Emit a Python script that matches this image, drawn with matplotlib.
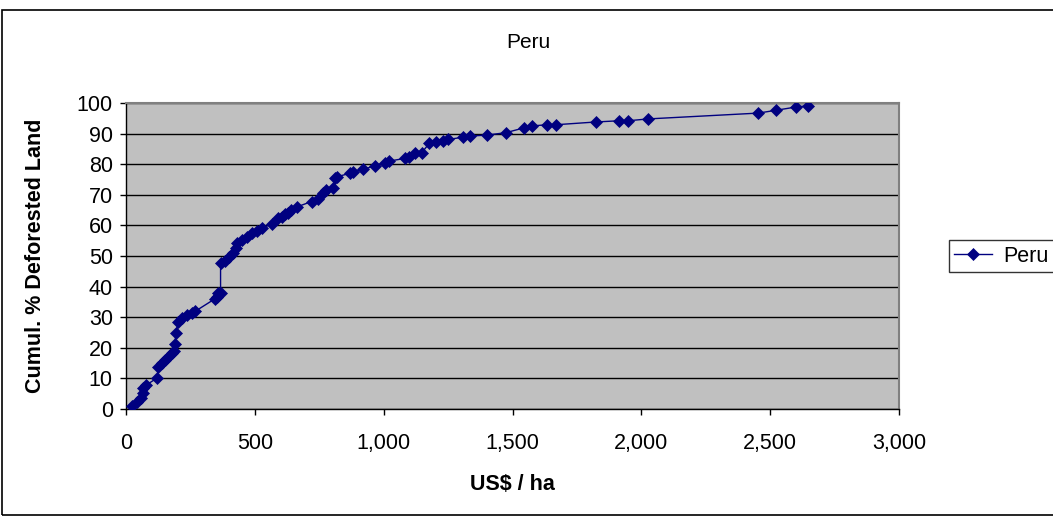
import matplotlib
matplotlib.use("Agg")
import matplotlib.pyplot as plt
from matplotlib.patches import Rectangle
from matplotlib.ticker import FuncFormatter

plt.rcParams['font.family'] = ['Liberation Sans', 'DejaVu Sans']

# Price of deforested land (US$/ha) and cumulative share of deforested land (%)
price_usd_ha = [22, 41, 57, 65, 67, 78, 122, 125, 138, 151, 164, 177, 187, 190, 194,
                203, 216, 235, 255, 268, 345, 352, 358, 367, 367, 384, 401, 416, 427,
                430, 449, 468, 488, 507, 527, 565, 591, 605, 617, 630, 640, 662, 720,
                746, 766, 776, 805, 812, 818, 869, 880, 921, 966, 1005, 1020, 1083, 1100,
                1122, 1148, 1177, 1203, 1231, 1251, 1307, 1335, 1400, 1474, 1546, 1575,
                1635, 1669, 1824, 1915, 1949, 2027, 2454, 2521, 2601, 2648]
cumul_pct = [1.0, 2.4, 3.5, 5.1, 7.0, 7.8, 10.2, 13.8, 14.9, 16.0, 17.1, 18.2, 19.0, 21.2, 24.8,
             28.5, 29.6, 30.7, 31.5, 31.9, 36.0, 36.7, 37.8, 38.0, 47.6, 48.5, 49.8, 51.1, 52.5,
             54.1, 55.2, 56.3, 57.4, 58.3, 59.0, 60.5, 62.3, 62.8, 63.6, 64.2, 65.0, 66.0, 67.8,
             68.5, 70.5, 71.6, 72.1, 75.5, 75.9, 77.0, 77.4, 78.3, 79.5, 80.5, 81.0, 81.9, 82.2,
             83.8, 83.8, 86.8, 87.1, 87.7, 88.1, 88.8, 89.2, 89.5, 90.3, 91.9, 92.5,
             92.9, 92.9, 93.8, 94.2, 94.2, 94.8, 96.7, 97.6, 98.7, 99.1]

x_ticks = [0, 500, 1000, 1500, 2000, 2500, 3000]
y_ticks = list(range(0, 101, 10))

W, H, DPI = 1053, 516, 100
FS = 15.5
fig = plt.figure(figsize=(W / DPI, H / DPI), dpi=DPI)
fig.patch.set_facecolor('white')

# outer chart border
fig.add_artist(Rectangle((2 / W, 1 / H), 1.2, (H - 11) / H, transform=fig.transFigure,
                         fill=False, edgecolor='black', linewidth=1.2))

left, right, top, bottom = 126, 899, 103, 409
ax = fig.add_axes([left / W, 1 - bottom / H, (right - left) / W, (bottom - top) / H])
ax.set_facecolor('#C0C0C0')

ax.plot(price_usd_ha, cumul_pct, color='#000080', linewidth=1.0, marker='D',
        markersize=6, markeredgewidth=0.5, label='Peru', zorder=3)

ax.set_xlim(0, 3000)
ax.set_ylim(0, 100)
ax.set_xticks(x_ticks)
ax.set_yticks(y_ticks)
ax.xaxis.set_major_formatter(FuncFormatter(lambda v, p: f'{int(v):,}'))
ax.yaxis.grid(True, color='black', linewidth=1.0)
ax.set_axisbelow(True)
ax.tick_params(axis='both', direction='out', length=4.5, width=1, colors='black',
               labelsize=FS)
ax.tick_params(axis='x', pad=13)
ax.tick_params(axis='y', pad=5)

for side in ('top', 'right'):
    ax.spines[side].set_color('#808080')
    ax.spines[side].set_linewidth(1.5)
for side in ('left', 'bottom'):
    ax.spines[side].set_color('black')
    ax.spines[side].set_linewidth(1.0)

ax.set_xlabel('US$ / ha', fontsize=FS, fontweight='bold', va='center')
ax.xaxis.set_label_coords(0.5, (bottom - 485) / (bottom - top))
ax.set_ylabel('Cumul. % Deforested Land', fontsize=FS, fontweight='bold', va='center')
ax.yaxis.set_label_coords((36 - left) / (right - left), 0.5)

fig.text(528 / W, 1 - 42 / H, 'Peru', ha='center', va='center', fontsize=15)

leg = fig.legend(loc='center left', bbox_to_anchor=(949 / W, 1 - 256 / H),
                 fontsize=FS, frameon=True, fancybox=False, edgecolor='black',
                 handlelength=1.75, borderpad=0.25, handletextpad=0.5, borderaxespad=0)
leg.get_frame().set_linewidth(1.0)

fig.savefig('out.png', dpi=DPI)
